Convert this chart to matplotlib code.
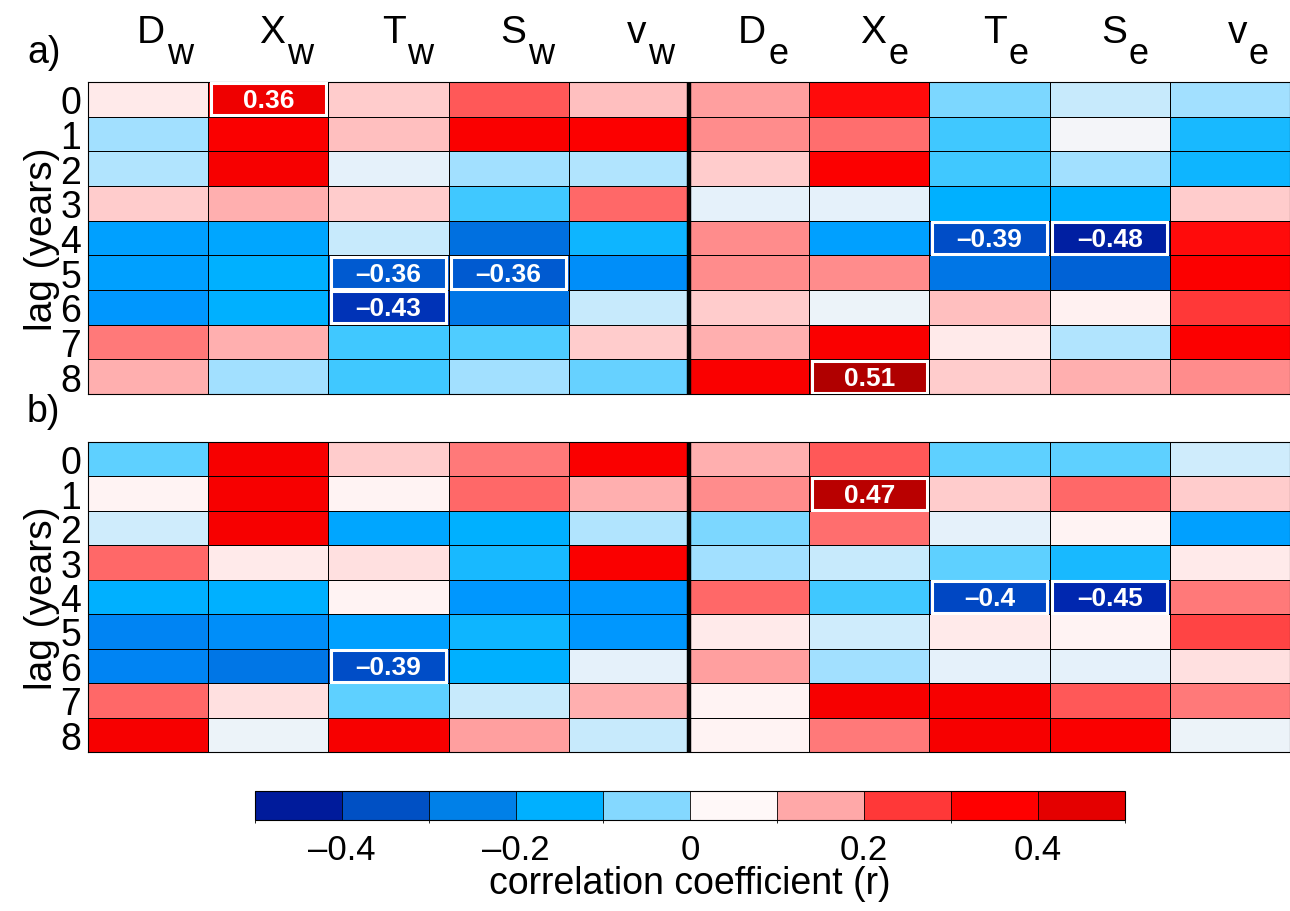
import numpy as np
import matplotlib
matplotlib.use('Agg')
import matplotlib.pyplot as plt
from matplotlib.colors import LinearSegmentedColormap, ListedColormap, BoundaryNorm
from matplotlib.patches import Rectangle
import matplotlib.cm as cm

plt.rcParams['font.family'] = ['Liberation Sans', 'DejaVu Sans']

# column names (letter, subscript) and lags
var_names = ['D', 'X', 'T', 'S', 'v', 'D', 'X', 'T', 'S', 'v']
var_subs = ['w', 'w', 'w', 'w', 'w', 'e', 'e', 'e', 'e', 'e']
lags = [0, 1, 2, 3, 4, 5, 6, 7, 8]

# a) correlations, rows = lag 0..8
corr_a = [
    [0.03, 0.36, 0.09, 0.23, 0.11, 0.15, 0.29, -0.07, -0.03, -0.05],
    [-0.05, 0.32, 0.11, 0.32, 0.31, 0.17, 0.20, -0.10, -0.005, -0.13],
    [-0.04, 0.33, -0.015, -0.05, -0.04, 0.09, 0.31, -0.10, -0.05, -0.14],
    [0.09, 0.13, 0.09, -0.10, 0.21, -0.015, -0.015, -0.15, -0.15, 0.09],
    [-0.18, -0.17, -0.03, -0.30, -0.14, 0.17, -0.18, -0.39, -0.48, 0.29],
    [-0.18, -0.15, -0.36, -0.36, -0.22, 0.17, 0.17, -0.28, -0.34, 0.31],
    [-0.20, -0.15, -0.43, -0.28, -0.03, 0.09, -0.008, 0.11, 0.015, 0.26],
    [0.19, 0.13, -0.10, -0.09, 0.09, 0.13, 0.32, 0.03, -0.04, 0.31],
    [0.13, -0.05, -0.10, -0.05, -0.08, 0.32, 0.51, 0.09, 0.13, 0.17],
]

# b) correlations
corr_b = [
    [-0.085, 0.33, 0.09, 0.19, 0.32, 0.13, 0.23, -0.085, -0.085, -0.025],
    [0.01, 0.33, 0.01, 0.21, 0.13, 0.17, 0.47, 0.09, 0.21, 0.09],
    [-0.025, 0.33, -0.17, -0.15, -0.04, -0.07, 0.20, -0.015, 0.01, -0.18],
    [0.21, 0.03, 0.05, -0.13, 0.32, -0.05, -0.03, -0.085, -0.13, 0.03],
    [-0.15, -0.15, 0.01, -0.20, -0.20, 0.21, -0.10, -0.40, -0.45, 0.19],
    [-0.24, -0.22, -0.18, -0.14, -0.20, 0.03, -0.025, 0.03, 0.01, 0.25],
    [-0.24, -0.28, -0.39, -0.15, -0.015, 0.15, -0.05, -0.015, -0.015, 0.05],
    [0.21, 0.05, -0.085, -0.03, 0.13, 0.01, 0.33, 0.33, 0.23, 0.19],
    [0.33, -0.008, 0.33, 0.15, -0.03, 0.01, 0.19, 0.33, 0.32, -0.008],
]

sig_level = 0.355

# continuous colormap for cells
anchors = [(-0.50, '#001a99'), (-0.45, '#0028b0'), (-0.40, '#0048c4'),
           (-0.35, '#0060d4'), (-0.30, '#0070e0'), (-0.25, '#0080f0'),
           (-0.20, '#0098ff'), (-0.15, '#00b0ff'), (-0.10, '#40c8ff'),
           (-0.05, '#a0e0ff'), (0.00, '#fff8f8'), (0.05, '#ffe0e0'),
           (0.10, '#ffc8c8'), (0.15, '#ffa0a0'), (0.20, '#ff7070'),
           (0.25, '#ff4848'), (0.30, '#ff0000'), (0.36, '#f00000'),
           (0.45, '#c00000'), (0.50, '#b00000')]
cmap = LinearSegmentedColormap.from_list('rb', [((v + 0.5), c) for v, c in anchors])

# discrete colorbar
bar_colors = ['#001b9b', '#0050c4', '#0080e8', '#00b0ff', '#84d8ff',
              '#fff8f8', '#ffa8a8', '#ff3838', '#ff0000', '#e40000']
bar_bounds = np.linspace(-0.5, 0.5, 11)

W, H = 1290, 912
fig = plt.figure(figsize=(W / 100, H / 100), dpi=100)

def px_axes(x0, y0, x1, y1):
    return fig.add_axes([x0 / W, 1 - y1 / H, (x1 - x0) / W, (y1 - y0) / H])

ax_a = px_axes(88, 83, 1290, 395)
ax_b = px_axes(88, 443, 1290, 753)

for ax, data in [(ax_a, corr_a), (ax_b, corr_b)]:
    data = np.array(data)
    ax.pcolormesh(np.arange(len(var_names) + 1), np.arange(len(lags) + 1), data,
                  cmap=cmap, vmin=-0.5, vmax=0.5, edgecolors='k', linewidth=0.7)
    ax.set_xlim(0, len(var_names))
    ax.set_ylim(len(lags), 0)
    ax.set_xticks([])
    ax.set_yticks(np.arange(len(lags)) + 0.5)
    ax.set_yticklabels([str(l) for l in lags], fontsize=27)
    ax.tick_params(axis='y', length=0, pad=5)
    ax.axvline(5, color='k', lw=3.2)
    for s in ax.spines.values():
        s.set_linewidth(0.8)
    ax.set_ylabel('lag (years)', fontsize=28, labelpad=0)
    for i in range(data.shape[0]):
        for j in range(data.shape[1]):
            v = data[i, j]
            if abs(v) >= sig_level:
                ax.add_patch(Rectangle((j + 0.02, i + 0.04), 0.96, 0.92, fill=False,
                                       edgecolor='white', lw=2.2, zorder=3))
                txt = f'{v:.2f}'.rstrip('0').replace('-', '\u2013')
                ax.text(j + 0.5, i + 0.53, txt, color='white', fontsize=19,
                        fontweight='bold', ha='center', va='center', zorder=4)

# column headers
col_w = 1202 / len(var_names)
for k, (nm, sb) in enumerate(zip(var_names, var_subs)):
    xc = 88 + (k + 0.5) * col_w
    fig.text((xc + 17) / W, 1 - 43 / H, nm, fontsize=28, ha='right', va='baseline')
    fig.text((xc + 19) / W, 1 - 64 / H, sb, fontsize=26, ha='left', va='baseline')

fig.text(27 / W, 1 - 63 / H, 'a)', fontsize=27, ha='left', va='baseline')
fig.text(27 / W, 1 - 422 / H, 'b)', fontsize=27, ha='left', va='baseline')

# colorbar
cax = px_axes(255, 792, 1125, 821)
sm = cm.ScalarMappable(cmap=ListedColormap(bar_colors), norm=BoundaryNorm(bar_bounds, len(bar_colors)))
cb = fig.colorbar(sm, cax=cax, orientation='horizontal', drawedges=True,
                  ticks=[-0.4, -0.2, 0, 0.2, 0.4])
cb.ax.set_xticklabels(['\u20130.4', '\u20130.2', '0', '0.2', '0.4'])
cb.ax.tick_params(length=0, labelsize=25, pad=9)
cb.outline.set_linewidth(0.8)
cb.dividers.set_linewidth(0.6)
cb.set_label('correlation coefficient (r)', fontsize=27, labelpad=0)

fig.savefig('out.png', dpi=100)
